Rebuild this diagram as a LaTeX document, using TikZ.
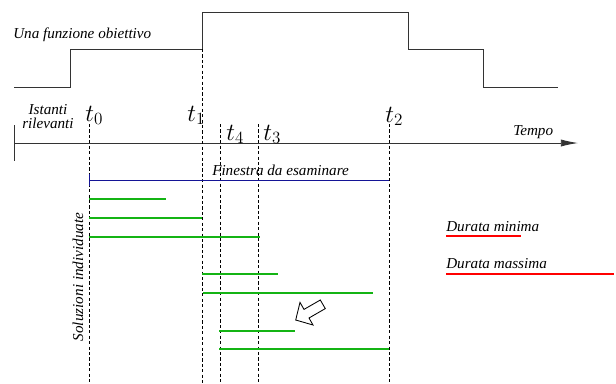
\documentclass[tikz,border=0pt]{standalone}
\usepackage{fontspec}
\setmainfont{Liberation Serif}
\usepackage{tikz}
\usetikzlibrary{positioning,arrows.meta}

\definecolor{solgreen}{RGB}{20,180,20}
\definecolor{winblue}{RGB}{20,20,150}
\tikzset{
  lbl/.style={font=\itshape\fontsize{10.6}{9.5}\selectfont, inner sep=0pt, align=center},
  tlbl/.style={font=\LARGE, inner sep=0pt, anchor=base west},
  guide/.style={dash pattern=on 2.2pt off 1.6pt, line width=0.5pt},
  sol/.style={draw=solgreen, line width=1.3pt},
  dur/.style={draw=red, line width=1.3pt},
  func/.style={line width=0.6pt, black!80}
}

\begin{document}
\begin{tikzpicture}[x=0.7pt,y=-0.7pt]
\useasboundingbox (0,0) rectangle (616,383);

\draw[func] (14,87) -| (70,49) -| (202,12) -| (408,49) -| (483,87) -- (558,87);
\node[lbl, anchor=base west] (fobj) at (13,38) {Una funzione obiettivo};

\coordinate (a0) at (14,143); \coordinate (a1) at (578,143);
\coordinate (k0) at (14,125); \coordinate (k1) at (14,161);
\draw[func, -{Latex[length=12pt,width=5pt]}] (a0) -- (a1);
\draw[func] (k0) -- (k1);
\node[lbl, anchor=base west] (tempo) at (513,135) {Tempo};
\node[lbl, anchor=base] (ist) at (48,114) {Istanti}; \node[lbl, anchor=base] (ril) at (48,128) {rilevanti};

\node[tlbl] (t0) at (85,121) {$t_0$}; \node[tlbl] (t1) at (187,121) {$t_1$}; \node[tlbl] (t2) at (385,122) {$t_2$};
\node[tlbl] (t4) at (226,140) {$t_4$}; \node[tlbl] (t3) at (263,140) {$t_3$};

\foreach \n/\x/\y in {0/89/124, 1/202/49, 4/220/124, 3/258/124, 2/389/124}{
  \coordinate (g\n) at (\x,\y); \coordinate (h\n) at (\x,383);
  \draw[guide] (g\n) -- (h\n);
}

\coordinate (w0) at (89,180); \coordinate (w2) at (389,180);
\draw[winblue, line width=0.6pt, {Bar[width=9pt]}-] (w0) -- (w2);
\node[lbl, anchor=base west] (fin) at (212,175) {Finestra da esaminare};

\foreach \y/\a/\b in {199/89/166, 218/89/202, 237/89/260, 274/202/278, 293/203/373, 331/219/295, 349/219/389}{
  \coordinate (sa) at (\a,\y); \coordinate (sb) at (\b,\y);
  \draw[sol] (sa) -- (sb);
}
\node[lbl, rotate=90] (solu) at (78,277) {Soluzioni individuate};

\draw[line width=0.6pt] (295.7,320) -- (313,325) -- (309,318) -- (325.3,308.6) -- (320.3,300) -- (304,309.4) -- (300,302.4) -- cycle;

\node[lbl, anchor=base west] (dmin) at (446,231) {Durata minima};
\node[lbl, anchor=base west] (dmax) at (446,268) {Durata massima};
\coordinate (r0) at (446,236); \coordinate (r1) at (521,236);
\coordinate (r2) at (446,274); \coordinate (r3) at (614,274);
\draw[dur] (r0) -- (r1); \draw[dur] (r2) -- (r3);
\end{tikzpicture}
\end{document}
